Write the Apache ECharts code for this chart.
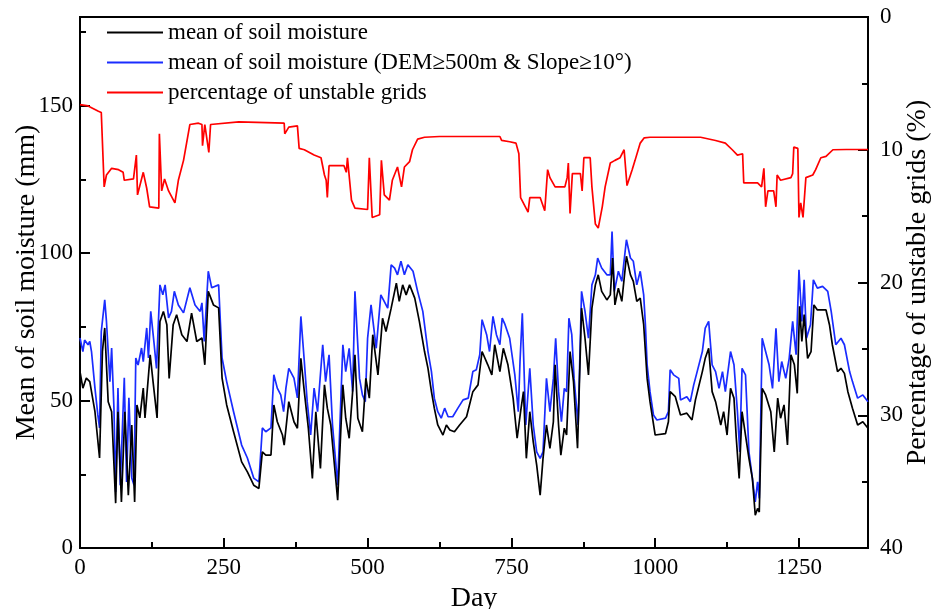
<!DOCTYPE html>
<html>
<head>
<meta charset="utf-8">
<script src="https://cdn.jsdelivr.net/npm/echarts@6/dist/echarts.min.js"></script>
<style>
  html, body { margin: 0; padding: 0; background: #fff; }
  #chart { width: 933px; height: 609px; }
</style>
</head>
<body>
<div id="chart"></div>
<script>
// mean of soil moisture (mm)
const blackDay = [0,5,11,17,26,34,39,43,49,55,62,66,72,78,84,90,95,99,104,110,113,122,127,134,139,145,151,155,162,168,177,186,194,203,212,217,223,232,241,247,255,267,281,291,302,311,317,323,332,337,343,352,355,363,372,378,384,390,397,404,410,418,425,430,436,448,457,462,468,474,478,483,491,497,503,509,518,526,532,541,550,555,561,567,573,582,590,599,605,611,616,622,631,637,643,651,660,672,683,692,699,709,716,721,730,736,744,753,760,766,771,776,782,788,794,800,805,811,817,823,826,832,836,842,846,852,858,865,872,878,884,890,896,901,907,916,922,926,930,936,942,950,957,962,968,974,980,986,991,1000,1018,1023,1026,1035,1044,1055,1064,1070,1082,1087,1093,1099,1105,1114,1119,1125,1131,1137,1141,1146,1151,1157,1163,1169,1174,1178,1181,1186,1192,1201,1207,1213,1218,1224,1230,1236,1242,1247,1251,1255,1259,1265,1271,1276,1282,1297,1303,1308,1317,1323,1329,1335,1343,1352,1361,1370];
const blackMm = [59.8,54.2,57.6,56.4,46.2,30.5,66.6,74.6,49.6,46.2,15.2,46.2,15.6,46.2,17.9,41.7,15.6,48.5,44.1,54.2,44.1,65.5,56.4,44.1,76.8,80.2,75.7,57.5,75.7,79.1,72.3,70.0,79.6,70.0,71.2,62.1,87.0,82.4,81.4,57.6,48.5,39.4,29.2,25.8,21.3,20.2,32.6,31.5,31.5,48.5,42.8,38.3,34.9,49.6,42.8,40.6,64.3,53.0,40.6,23.6,46.2,27.0,55.3,47.4,41.7,16.2,55.3,44.0,37.2,53.0,65.5,44.0,39.4,57.5,50.8,72.3,58.7,77.9,73.4,81.3,89.8,83.6,89.2,85.8,89.2,84.7,76.8,66.6,60.9,53.0,47.4,41.7,38.3,41.7,40.0,39.4,41.7,44.5,53.0,55.3,66.6,62.1,58.7,68.9,59.8,67.7,62.1,50.8,37.2,46.2,53.0,30.4,46.2,36.0,28.1,17.9,30.4,41.7,33.8,42.8,62.1,41.7,31.5,40.6,38.3,66.6,56.4,33.8,81.3,71.1,58.7,81.3,89.2,92.6,87.0,84.1,85.8,98.3,82.4,88.1,83.6,98.9,92.6,90.4,83.6,84.7,75.7,57.5,49.6,38.3,38.8,42.8,53.0,51.3,45.1,45.7,43.4,50.2,59.8,64.3,67.7,53.0,49.6,41.7,46.2,38.3,54.1,50.8,37.2,23.6,46.2,38.3,30.4,23.6,11.1,13.4,12.2,54.1,51.9,46.2,32.6,50.8,44.0,48.5,34.9,65.5,62.1,52.4,81.9,70.0,79.1,64.3,66.6,82.4,80.7,80.7,75.7,68.9,59.8,60.9,59.2,53.0,47.4,41.7,42.8,40.6];

// mean of soil moisture, DEM>=500m & Slope>=10 (mm)
const blueDay = [0,5,8,14,17,20,26,31,34,37,43,46,52,55,59,62,66,70,77,81,85,90,94,97,101,107,110,116,119,123,129,133,139,144,148,154,159,164,171,180,191,200,209,212,216,223,229,241,247,255,267,281,291,302,311,317,323,332,337,343,349,354,358,363,372,378,384,390,395,401,407,413,422,427,433,439,448,457,462,468,474,478,486,491,496,500,506,515,523,535,541,547,552,558,564,570,579,587,596,605,611,616,622,628,634,640,648,657,666,675,683,689,695,699,707,712,718,724,730,734,739,747,756,762,765,769,775,782,788,794,800,805,811,817,823,827,832,837,842,846,850,855,859,866,872,878,884,890,896,900,907,916,922,925,929,936,942,950,957,962,968,974,980,983,986,991,997,1003,1018,1023,1026,1032,1041,1044,1055,1061,1067,1073,1082,1087,1093,1099,1105,1111,1117,1122,1131,1137,1143,1147,1151,1157,1163,1169,1174,1178,1181,1186,1192,1198,1204,1210,1215,1220,1227,1233,1239,1245,1250,1255,1259,1263,1270,1275,1282,1291,1300,1306,1314,1323,1329,1338,1343,1352,1361,1370];
const blueMm = [71.2,66.6,70.5,68.9,70.0,66.6,54.2,45.1,40.7,73.4,84.1,76.8,56.4,67.8,47.5,19.0,54.2,21.3,57.7,22.4,50.9,23.7,21.3,64.4,62.0,67.8,63.2,74.6,64.4,80.2,68.9,60.9,89.2,85.8,89.2,78.0,80.2,87.0,82.4,79.7,88.2,82.4,80.2,83.1,70.0,93.8,88.2,89.2,64.4,56.4,46.2,34.9,30.5,23.7,22.4,40.7,39.4,40.7,58.7,54.2,51.9,46.2,54.2,60.9,57.6,50.9,78.5,63.2,49.6,38.3,54.2,46.2,68.9,56.4,65.5,41.7,21.3,68.9,59.8,67.7,53.0,87.0,57.5,51.9,49.6,71.1,82.4,67.7,85.8,81.3,96.0,94.9,92.6,97.2,92.6,96.0,93.8,87.0,80.2,66.6,59.8,50.8,46.2,44.0,47.4,44.5,44.5,47.4,50.2,50.8,59.8,60.4,65.5,77.4,72.3,66.6,78.5,72.3,68.9,77.9,75.7,71.1,58.7,46.2,63.2,79.6,41.7,60.9,41.7,32.6,30.4,32.6,57.5,46.2,57.5,71.1,53.0,42.8,54.1,53.0,77.9,72.3,57.5,41.7,87.0,80.2,71.1,89.2,92.6,98.3,94.9,92.6,92.6,107.3,87.0,93.8,90.4,104.5,98.3,97.2,89.2,93.8,85.8,75.7,62.1,53.0,45.1,43.4,44.0,46.2,60.4,58.7,57.5,50.2,51.3,49.6,55.3,59.8,66.6,74.5,76.8,62.1,59.8,54.1,59.8,53.0,66.6,62.1,46.2,32.6,60.9,58.7,32.6,23.6,15.6,22.4,16.8,71.1,66.6,62.1,54.1,74.5,56.4,63.2,57.5,64.3,76.8,65.5,94.3,76.8,90.9,71.1,75.7,90.9,88.1,88.7,87.0,80.2,68.9,71.1,68.9,59.8,56.4,50.8,51.9,49.6];

// percentage of unstable grids (%)
const redDay = [0,14,32,37,42,46,55,67,75,77,93,98,100,110,116,121,137,138,142,147,154,165,171,180,191,206,212,213,217,224,227,276,355,356,363,378,381,390,407,419,425,428,430,433,459,463,465,472,478,500,503,508,521,524,529,538,543,552,559,564,573,578,587,599,625,730,733,747,758,763,766,779,782,800,808,813,817,826,843,847,849,852,856,870,873,876,887,890,896,901,908,913,922,930,939,946,951,960,965,974,981,991,1079,1105,1122,1134,1143,1152,1154,1178,1185,1189,1192,1196,1206,1210,1212,1218,1236,1239,1241,1248,1250,1253,1257,1262,1274,1279,1288,1297,1309,1332,1370];
const redPct = [6.6,6.7,7.1,7.2,12.8,11.9,11.4,11.5,11.7,12.3,12.2,10.4,13.4,11.7,12.9,14.3,14.4,8.8,13.1,12.2,13.1,14.0,12.3,10.8,8.1,8.0,8.1,9.7,8.1,10.2,8.1,7.9,8.0,8.8,8.3,8.2,9.9,10.0,10.4,10.6,11.9,12.3,13.6,11.2,11.2,11.7,10.6,13.8,14.4,14.5,10.6,15.1,14.9,10.8,13.4,13.8,12.3,11.3,12.8,11.3,10.9,10.0,9.2,9.06,9.0,9.0,9.3,9.4,9.5,10.3,13.6,14.7,13.6,13.6,14.6,11.5,12.1,12.8,12.8,12.1,11.0,14.8,11.8,11.8,13.1,10.6,10.6,12.8,15.6,15.9,14.3,12.8,11.0,10.8,10.6,10.0,12.7,11.5,10.8,9.5,9.1,9.06,9.06,9.3,9.5,10.0,10.4,10.3,12.5,12.5,12.8,11.4,14.3,13.1,13.1,14.3,11.9,12.3,12.1,11.8,9.8,9.9,15.1,14.0,15.1,12.1,11.9,11.5,10.6,10.5,10.0,9.98,9.98];

const seriesNames = [
  'mean of soil moisture',
  'mean of soil moisture (DEM\u2265500m & Slope\u226510\u00b0)',
  'percentage of unstable grids'
];

const font = '"Liberation Serif", "Times New Roman", serif';

function pairs(xs, ys) {
  return xs.map((x, i) => [x, ys[i]]);
}

let chart = echarts.init(document.getElementById('chart'));

let axisLine = { show: true, onZero: false, lineStyle: { color: '#000', width: 2 } };
let labelStyle = { color: '#000', fontSize: 23, fontFamily: font, formatter: v => String(v) };
let titleStyle = { color: '#000', fontSize: 28, fontFamily: font };

let option = {
  animation: false,
  backgroundColor: '#fff',
  textStyle: { fontFamily: font, color: '#000' },
  grid: {
    left: 80, right: 65, top: 17, bottom: 61,
    outerBoundsMode: 'none',
    show: true, borderColor: '#000', borderWidth: 2
  },
  legend: {
    orient: 'vertical',
    left: 102,
    top: 15,
    icon: 'rect',
    itemWidth: 56,
    itemHeight: 2,
    itemGap: 5,
    textStyle: { color: '#000', fontSize: 23, fontFamily: font, lineHeight: 25 },
    data: seriesNames
  },
  xAxis: [{
    type: 'value', min: 0, max: 1370, interval: 250, position: 'bottom',
    axisLine: axisLine,
    axisTick: { show: true, inside: true, length: 10, lineStyle: { color: '#000', width: 2 } },
    axisLabel: Object.assign({ margin: 8, showMaxLabel: false }, labelStyle),
    splitLine: { show: false },
    name: 'Day', nameLocation: 'middle', nameGap: 37, nameMoveOverlap: false,
    nameTextStyle: titleStyle
  }, {
    // minor ticks, same range as the main x axis
    type: 'value', min: 0, max: 1370, interval: 125, position: 'bottom',
    axisLine: { show: false },
    axisTick: { show: true, inside: true, length: 6, lineStyle: { color: '#000', width: 2 } },
    axisLabel: { show: false },
    splitLine: { show: false }
  }],
  yAxis: [{
    type: 'value', min: 0, max: 180, interval: 50, position: 'left',
    axisLine: axisLine,
    axisTick: { show: true, inside: true, length: 10, lineStyle: { color: '#000', width: 2 } },
    axisLabel: Object.assign({ margin: 7, showMaxLabel: false }, labelStyle),
    splitLine: { show: false },
    name: 'Mean of soil moisture (mm)', nameLocation: 'middle', nameGap: 39, nameRotate: 90,
    nameMoveOverlap: false,
    nameTextStyle: titleStyle
  }, {
    type: 'value', min: 0, max: 40, interval: 10, inverse: true, position: 'right',
    axisLine: axisLine,
    axisTick: { show: true, inside: true, length: 10, lineStyle: { color: '#000', width: 2 } },
    minorTick: { show: true, splitNumber: 2, length: 6, lineStyle: { color: '#000', width: 2 } },
    axisLabel: Object.assign({ margin: 12 }, labelStyle),
    splitLine: { show: false },
    name: 'Percentage of unstable grids (%)', nameLocation: 'middle', nameGap: 36, nameRotate: 90,
    nameMoveOverlap: false,
    nameTextStyle: titleStyle
  }, {
    // minor ticks, same range as the left axis
    type: 'value', min: 0, max: 180, interval: 25, position: 'left',
    axisLine: { show: false },
    axisTick: { show: true, inside: true, length: 6, lineStyle: { color: '#000', width: 2 } },
    axisLabel: { show: false },
    splitLine: { show: false }
  }],
  series: [{
    name: seriesNames[2],
    type: 'line', xAxisIndex: 0, yAxisIndex: 1,
    showSymbol: false,
    lineStyle: { color: '#ff0000', width: 1.7 },
    itemStyle: { color: '#ff0000' },
    data: pairs(redDay, redPct)
  }, {
    name: seriesNames[1],
    type: 'line', xAxisIndex: 0, yAxisIndex: 0,
    showSymbol: false,
    lineStyle: { color: '#1a2cff', width: 1.7 },
    itemStyle: { color: '#1a2cff' },
    data: pairs(blueDay, blueMm)
  }, {
    // the minor-tick axes share the main scales, so this series maps the same way
    name: seriesNames[0],
    type: 'line', xAxisIndex: 1, yAxisIndex: 2,
    showSymbol: false,
    lineStyle: { color: '#000', width: 1.7 },
    itemStyle: { color: '#000' },
    data: pairs(blackDay, blackMm)
  }]
};

chart.setOption(option);
</script>
</body>
</html>
